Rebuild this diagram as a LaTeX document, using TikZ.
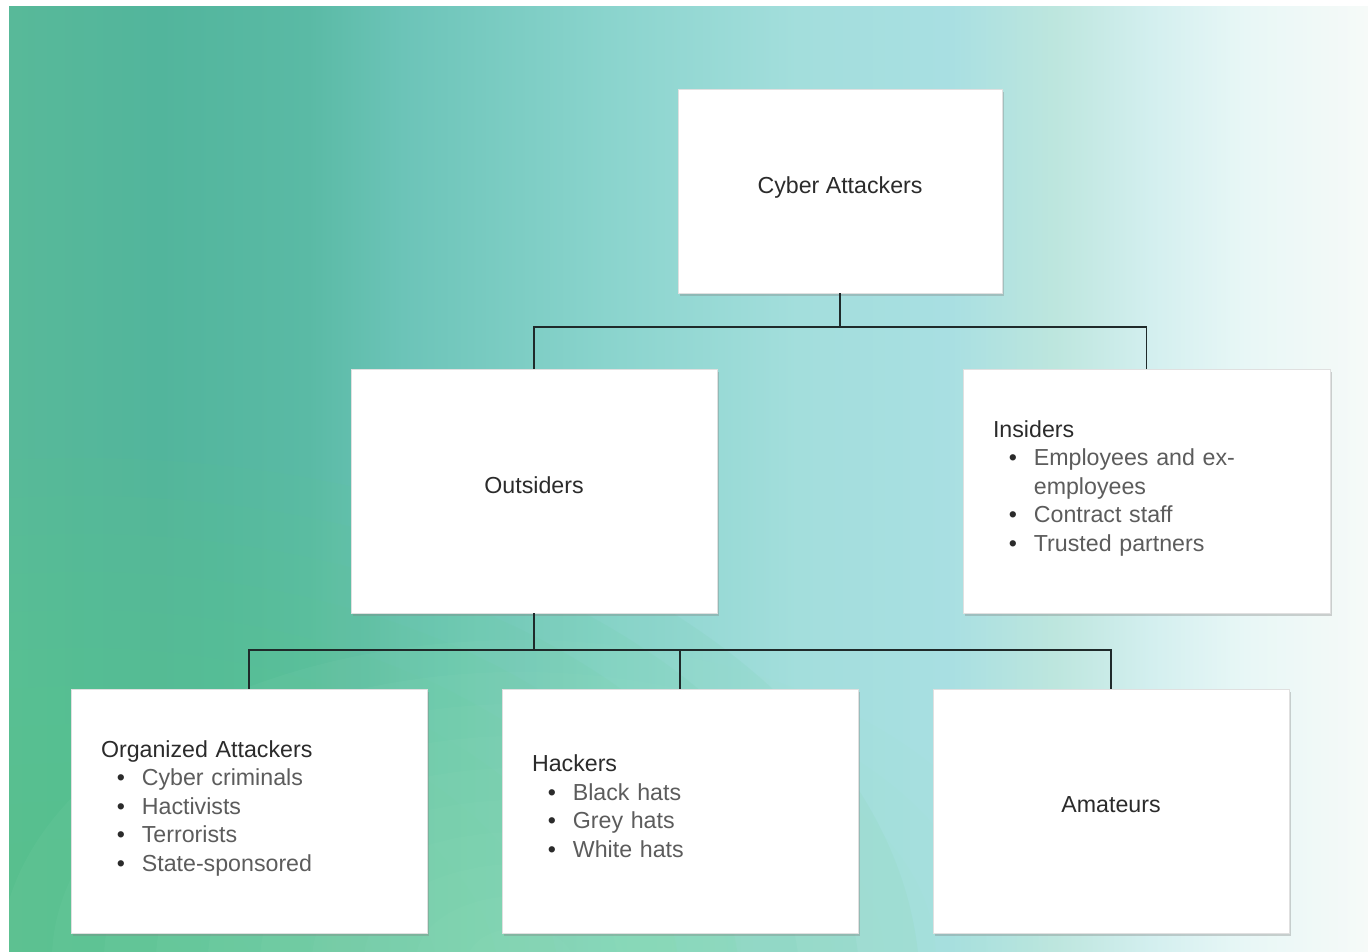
\documentclass[tikz,border=0pt]{standalone}
\usepackage{fontspec}
\setmainfont{Liberation Sans}
\usepackage{xcolor}
\usetikzlibrary{shadows}
\definecolor{heading}{HTML}{2B2B2B}
\definecolor{itemtext}{HTML}{5C5C5C}
\definecolor{linkline}{HTML}{1F2A2A}
\definecolor{bgA}{HTML}{58B999}
\definecolor{bgB}{HTML}{52B59C}
\definecolor{bgC}{HTML}{5ABAA5}
\definecolor{bgD}{HTML}{6CC4B8}
\definecolor{bgE}{HTML}{8AD4CD}
\definecolor{bgF}{HTML}{A3DEDC}
\definecolor{bgG}{HTML}{A8DFE2}
\definecolor{bgH}{HTML}{BDE6DE}
\definecolor{bgI}{HTML}{D3EFEF}
\definecolor{bgJ}{HTML}{E8F7F6}
\definecolor{bgK}{HTML}{F6FAF8}
\definecolor{bggreen}{HTML}{60CA8E}
\definecolor{bgmint}{HTML}{A0E6C6}
\pgfdeclarehorizontalshading{bgshade}{100bp}{color(0bp)=(bgA); color(25bp)=(bgA);
  color(30.5bp)=(bgB); color(36bp)=(bgC); color(39.5bp)=(bgD); color(47bp)=(bgE);
  color(54bp)=(bgF); color(59.5bp)=(bgG); color(63.5bp)=(bgH); color(67bp)=(bgI);
  color(70.5bp)=(bgJ); color(75bp)=(bgK); color(100bp)=(bgK)}
\newlength\pxu
\setlength\pxu{0.5669pt}
\newcommand\itm[1]{\hspace*{16\pxu}\makebox[25\pxu][l]{\textbullet}\textcolor{itemtext}{#1}}
\newcommand\itmcont[1]{\hspace*{41\pxu}\textcolor{itemtext}{#1}}
\tikzset{
  box/.style={fill=white, draw=black!12, line width=0.4pt, text=heading,
    font=\fontsize{13.2}{16.2}\selectfont,
    drop shadow={shadow xshift=1.2pt, shadow yshift=-1.8pt, opacity=0.35}},
  labelbox/.style={box, text depth=7pt},
  listbox/.style={box, align=left, inner xsep=0.6cm, text width=#1, minimum height=4.88cm,
    execute at end node={\rule[-5.8pt]{0pt}{1pt}}},
  link/.style={draw=linkline, line width=1.1pt},
}

\begin{document}
\begin{tikzpicture}[x=0.02cm, y=-0.02cm]
  \useasboundingbox (0,0) rectangle (1368,952);
  \fill[white] (0,0) rectangle (1368,952);
  % background
  \begin{scope}
    \clip (9,7) rectangle (1368,952);
    \shade[shading=bgshade] (9,7) rectangle (1368,952);
    \foreach \k in {1,...,14}
      \fill[bggreen, opacity=0.085] (80,990) ellipse [x radius={60*\k}, y radius={38*\k}];
    \foreach \k in {1,...,10}
      \fill[bgmint, opacity=0.07] (520,960) ellipse [x radius={52*\k}, y radius={32*\k}];
  \end{scope}

  \node[labelbox, minimum width=6.48cm, minimum height=4.08cm] (cyber) at (840,191) {Cyber Attackers};
  \node[labelbox, minimum width=7.32cm, minimum height=4.88cm] (outside) at (534,491) {Outsiders};
  \node[listbox=6.14cm] (inside) at (1146.5,491) {Insiders\\
    \itm{Employees and ex-}\\ \itmcont{employees}\\ \itm{Contract staff}\\ \itm{Trusted partners}};

  \node[listbox=5.92cm] (organized) at (249,811) {Organized Attackers\\
    \itm{Cyber criminals}\\ \itm{Hactivists}\\ \itm{Terrorists}\\ \itm{State-sponsored}};
  \node[listbox=5.92cm] (hackers) at (680,811) {Hackers\\
    \itm{Black hats}\\ \itm{Grey hats}\\ \itm{White hats}};
  \node[labelbox, minimum width=7.12cm, minimum height=4.88cm] (amateurs) at (1111,811) {Amateurs};

  \coordinate (topbus) at (840,327);
  \coordinate (lowbus) at (534,650);
  \draw[link] (cyber.south) -- (topbus) -| (outside.north);
  \draw[link] (topbus) -| (inside.north);
  \draw[link] (outside.south) -- (lowbus) -| (organized.north);
  \draw[link] (lowbus) -| (hackers.north);
  \draw[link] (lowbus) -| (amateurs.north);
\end{tikzpicture}
\end{document}
